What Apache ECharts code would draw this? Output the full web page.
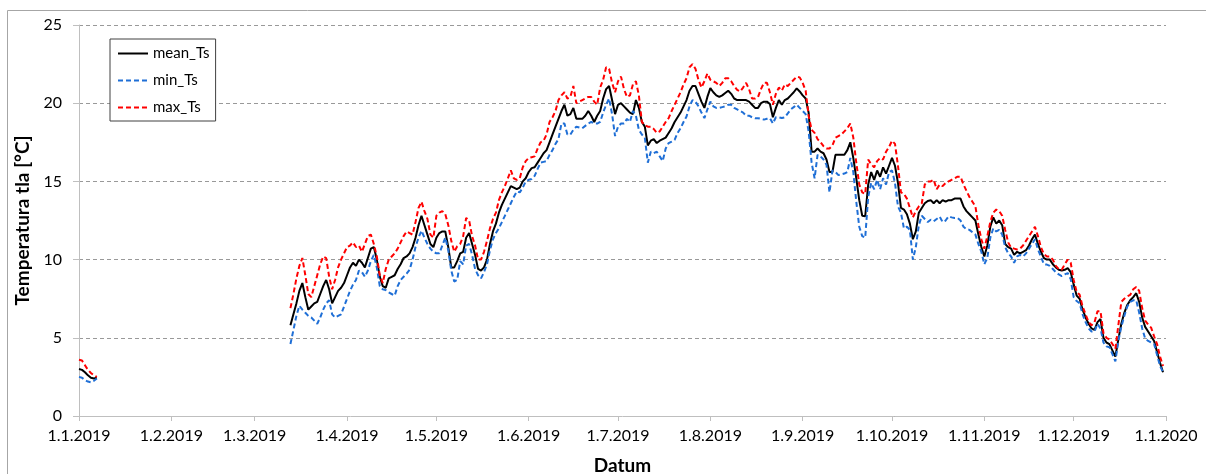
<!DOCTYPE html>
<html>
<head>
<meta charset="utf-8">
<title>Temperatura tla 2019</title>
<script src="https://cdn.jsdelivr.net/npm/echarts@6/dist/echarts.min.js"></script>
<style>
  html, body { margin: 0; padding: 0; background: #fff; }
  #chart { width: 1206px; height: 474px; }
</style>
</head>
<body>
<div id="chart"></div>
<script>
// Daily soil temperature, 2019 (°C)
const seriesNames = ['mean_Ts', 'min_Ts', 'max_Ts'];
const yTicks = [0, 5, 10, 15, 20, 25];

// First week of January (1.1.2019 – 7.1.2019)
const janStart = '2019-01-01';
const janMean = [3.0, 2.95, 2.8, 2.6, 2.45, 2.4, 2.45];
const janMin  = [2.5, 2.45, 2.3, 2.2, 2.15, 2.25, 2.4];
const janMax  = [3.6, 3.55, 3.25, 2.95, 2.75, 2.6, 2.5];

// Continuous record from 13.3.2019 to 31.12.2019
const mainStart = '2019-03-13';
const meanTs = [
  5.8, 6.5, 7.2, 8.0, 8.5, 7.6, 6.8, 7.0, 7.2, 7.3,
  7.8, 8.3, 8.7, 8.1, 7.2, 7.6, 8.0, 8.2, 8.5, 9.0,
  9.5, 9.8, 9.6, 10.0, 9.8, 9.5, 10.1, 10.7, 10.8, 10.0,
  8.9, 8.3, 8.2, 8.8, 8.9, 9.0, 9.4, 9.7, 10.1, 10.2,
  10.4, 10.8, 11.4, 12.2, 12.8, 12.2, 11.6, 11.0, 10.8, 11.4,
  11.7, 11.8, 11.8, 10.8, 9.5, 9.5, 9.9, 10.4, 10.5, 11.4,
  11.7, 11.0, 10.3, 9.4, 9.3, 9.5, 10.0, 11.0, 11.8, 12.3,
  13.0, 13.5, 13.9, 14.3, 14.7, 14.6, 14.5, 14.6, 15.0, 15.2,
  15.6, 15.85, 15.9, 16.2, 16.5, 16.8, 17.0, 17.5, 18.0, 18.5,
  19.0, 19.5, 19.9, 19.2, 19.3, 19.7, 19.0, 19.0, 19.0, 19.2,
  19.5, 19.2, 18.8, 19.2, 19.5, 20.3, 20.9, 21.1, 20.2, 19.3,
  19.9, 20.0, 19.8, 19.6, 19.4, 19.3, 20.2, 19.7, 18.8, 18.5,
  17.3, 17.6, 17.7, 17.45, 17.6, 17.7, 17.8, 18.1, 18.4, 18.8,
  19.1, 19.4, 19.8, 20.2, 20.8, 21.1, 21.1, 20.6, 20.1, 19.7,
  20.4, 20.96, 20.7, 20.5, 20.4, 20.5, 20.65, 20.8, 20.6, 20.3,
  20.2, 20.2, 20.2, 20.2, 20.1, 19.9, 19.7, 19.7, 20.0, 20.1,
  20.1, 19.95, 19.1, 19.7, 20.2, 19.9, 20.2, 20.3, 20.5, 20.7,
  20.95, 20.75, 20.5, 20.3, 19.4, 16.9, 16.9, 17.1, 16.9, 16.8,
  16.4, 15.6, 15.6, 16.7, 16.7, 16.7, 16.7, 17.0, 17.5, 16.5,
  15.2, 13.8, 12.8, 12.77, 14.8, 15.6, 15.1, 15.7, 15.3, 15.9,
  15.5, 16.0, 16.5, 16.0, 14.9, 13.3, 13.2, 12.9, 12.3, 11.3,
  11.8, 13.0, 13.3, 13.6, 13.75, 13.8, 13.6, 13.8, 13.6, 13.8,
  13.7, 13.8, 13.8, 13.9, 13.9, 13.9, 13.4, 13.1, 12.9, 12.7,
  12.5, 11.6, 10.8, 10.2, 10.9, 12.1, 12.7, 12.3, 12.5, 12.2,
  11.0, 10.8, 10.7, 10.3, 10.5, 10.4, 10.5, 10.6, 10.9, 11.3,
  11.6, 11.0, 10.5, 10.1, 10.0, 10.0, 9.7, 9.5, 9.35, 9.3,
  9.35, 9.45, 9.2, 8.4, 7.7, 7.5, 6.8, 6.3, 5.9, 5.6,
  5.5, 6.0, 6.2, 5.0, 4.7, 4.6, 4.2, 3.8, 4.9, 5.9,
  6.6, 7.1, 7.4, 7.6, 7.85, 7.3, 6.3, 5.7, 5.4, 5.1,
  4.8, 4.1, 3.4, 2.8
];
const minTs = [
  4.6, 5.5, 6.4, 7.05, 6.8, 6.6, 6.4, 6.3, 6.1, 5.9,
  6.3, 6.8, 7.2, 7.4, 6.5, 6.3, 6.4, 6.5, 7.0, 7.5,
  8.0, 8.4, 8.7, 9.3, 9.2, 8.9, 9.3, 9.9, 10.3, 9.5,
  8.3, 8.1, 8.05, 7.9, 7.8, 7.7, 8.3, 8.7, 8.9, 9.1,
  9.35, 10.0, 10.8, 11.4, 11.85, 11.4, 11.0, 10.7, 10.5, 10.4,
  10.4, 10.9, 11.4, 10.6, 9.3, 8.6, 8.7, 9.9, 9.7, 10.9,
  11.0, 10.3, 9.4, 9.0, 8.8, 9.2, 9.7, 10.6, 11.3, 11.7,
  12.0, 12.4, 12.8, 13.2, 13.6, 14.0, 14.35, 14.3, 14.6, 15.0,
  15.1, 15.15, 15.35, 15.8, 16.2, 16.25, 16.3, 16.7, 17.0, 17.4,
  17.7, 18.7, 18.7, 18.0, 18.0, 18.3, 18.5, 18.45, 18.4, 18.55,
  18.7, 18.8, 18.7, 18.7, 18.8, 19.4, 19.9, 20.3, 19.3, 17.9,
  18.5, 18.7, 18.7, 19.0, 18.8, 19.5, 19.2, 18.3, 18.0, 17.8,
  16.2, 16.9, 16.8, 16.9, 16.6, 16.3, 17.1, 17.45, 17.55, 17.66,
  18.1, 18.4, 18.8, 19.15, 19.8, 20.2, 20.1, 19.8, 19.4, 19.05,
  19.6, 20.1, 19.8, 19.7, 19.7, 19.75, 19.8, 19.9, 19.9, 19.7,
  19.6, 19.5, 19.4, 19.2, 19.2, 19.1, 19.04, 19.04, 19.0, 18.95,
  19.0, 19.04, 18.7, 19.1, 19.1, 19.05, 19.1, 19.35, 19.6, 19.75,
  19.9, 19.7, 19.5, 19.3, 18.2, 16.2, 15.2, 16.7, 16.6, 16.4,
  16.06, 14.3, 15.7, 15.6, 15.4, 15.45, 15.5, 15.6, 16.5, 15.6,
  13.7, 12.1, 11.5, 11.4, 14.0, 14.9, 14.5, 15.1, 14.5, 15.2,
  14.8, 15.6, 15.7, 14.9, 13.4, 13.0, 12.0, 12.1, 11.9, 10.0,
  10.8, 12.2, 12.8, 12.6, 12.4, 12.55, 12.45, 12.6, 12.75, 12.4,
  12.5, 12.77, 12.7, 12.66, 12.66, 12.5, 12.1, 11.95, 11.9, 11.75,
  11.6, 11.0, 10.5, 9.7, 10.1, 11.4, 12.0, 11.8, 11.9, 11.6,
  10.8, 10.4, 10.2, 9.8, 10.2, 10.3, 10.2, 10.4, 10.7, 11.0,
  11.3, 10.64, 10.2, 9.7, 9.68, 9.6, 9.4, 9.2, 9.05, 8.95,
  9.05, 9.14, 8.75, 7.6, 7.35, 7.2, 6.5, 6.0, 5.6, 5.4,
  5.4, 5.9, 5.6, 4.7, 4.45, 4.4, 3.95, 3.5, 4.8, 5.7,
  6.4, 7.0, 7.3, 7.4, 7.4, 6.6, 5.6, 4.95, 4.8, 4.7,
  4.6, 3.9, 3.2, 2.8
];
const maxTs = [
  6.9, 7.8, 8.8, 9.6, 10.1, 9.0, 7.8, 7.6, 8.3, 9.0,
  9.7, 10.2, 10.1, 8.9, 8.1, 8.7, 9.5, 10.0, 10.4, 10.8,
  10.9, 11.1, 10.8, 10.9, 10.5, 11.0, 11.5, 11.6, 11.0, 10.2,
  9.0, 8.5, 9.4, 10.0, 10.2, 10.4, 10.7, 11.1, 11.5, 11.8,
  11.7, 11.6, 12.4, 13.3, 13.7, 13.1, 12.6, 11.6, 11.4, 12.8,
  13.0, 13.1, 12.9, 12.2, 11.2, 10.5, 10.85, 11.0, 11.5, 12.66,
  12.5, 11.5, 10.9, 10.0, 10.0, 10.5, 11.2, 12.0, 12.6, 13.0,
  13.8, 14.3, 14.7, 15.2, 15.7, 15.2, 15.1, 15.2, 15.9, 16.3,
  16.5, 16.55, 16.6, 17.1, 17.5, 17.6, 18.0, 18.8, 19.1, 19.5,
  20.2, 20.5, 20.7, 20.3, 20.4, 21.1, 20.0, 20.1, 20.2, 20.3,
  20.4, 20.4, 20.1, 19.9, 21.0, 21.5, 22.3, 22.2, 21.3, 20.7,
  21.4, 21.7, 20.9, 20.4, 20.5, 21.2, 21.4, 20.5, 18.8, 18.6,
  18.5, 18.5, 18.35, 18.1, 18.2, 18.5, 18.8, 19.05, 19.5, 19.9,
  20.3, 20.7, 21.2, 21.6, 22.3, 22.5, 22.2, 21.5, 21.0, 21.4,
  21.9, 21.5, 21.4, 21.3, 21.1, 21.3, 21.6, 21.6, 21.4, 21.1,
  20.85, 20.75, 21.0, 21.3, 20.9, 20.3, 20.3, 20.4, 20.9, 21.3,
  21.3, 20.7, 19.9, 20.6, 21.0, 20.8, 21.2, 21.1, 21.3, 21.5,
  21.7, 21.65, 21.3, 20.8, 19.2, 18.3, 18.1, 17.7, 17.5, 17.25,
  17.1, 17.1, 17.3, 17.8, 17.9, 18.0, 18.2, 18.4, 18.7, 17.8,
  16.2, 14.8, 14.3, 14.2, 16.4, 16.1, 15.9, 16.3, 16.5, 16.4,
  16.9, 17.2, 17.6, 17.4, 16.0, 14.3, 14.2, 13.9, 13.3, 12.7,
  13.1, 13.4, 13.6, 14.8, 15.0, 15.0, 15.1, 14.5, 14.8, 14.7,
  14.9, 15.0, 15.1, 15.2, 15.3, 15.3, 14.8, 14.4, 14.0, 13.7,
  13.4, 12.2, 11.3, 10.7, 11.5, 12.4, 13.0, 13.2, 13.1, 12.8,
  11.9, 11.1, 10.75, 10.7, 10.65, 10.7, 10.9, 11.2, 11.5, 11.8,
  12.1, 11.5, 10.8, 10.35, 10.2, 10.2, 10.0, 9.6, 9.4, 9.35,
  9.7, 10.0, 9.8, 8.7, 7.95, 7.75, 7.0, 6.5, 6.0, 5.8,
  6.0, 6.7, 6.7, 5.3, 5.0, 4.9, 4.6, 4.3, 5.8, 7.3,
  7.5, 7.65, 7.75, 8.1, 8.25, 8.0, 6.9, 6.1, 5.85, 5.65,
  5.1, 4.6, 3.8, 3.2
];

// Category axis: one entry per day, 1.1.2019 .. 1.1.2020, formatted d.m.yyyy
const DAY = 86400000;
const axisStart = Date.UTC(2019, 0, 1);
const axisEnd = Date.UTC(2020, 0, 1);
const days = [];
for (let t = axisStart; t <= axisEnd; t += DAY) {
  const d = new Date(t);
  days.push(d.getUTCDate() + '.' + (d.getUTCMonth() + 1) + '.' + d.getUTCFullYear());
}

function dayIndex(iso) {
  const p = iso.split('-').map(Number);
  return Math.round((Date.UTC(p[0], p[1] - 1, p[2]) - axisStart) / DAY);
}

// Place the two measured stretches on the full-year axis, gaps stay empty
function fullYear(janPart, mainPart) {
  const out = new Array(days.length).fill(null);
  const j0 = dayIndex(janStart);
  janPart.forEach((v, i) => { out[j0 + i] = v; });
  const m0 = dayIndex(mainStart);
  mainPart.forEach((v, i) => { out[m0 + i] = v; });
  return out;
}

const isMonthStart = (idx, label) => label.startsWith('1.');
const FONT = 'Lato, "Open Sans", sans-serif';
const DASH = [5, 3];

const chart = echarts.init(document.getElementById('chart'));
chart.setOption({
  animation: false,
  backgroundColor: '#ffffff',
  textStyle: { fontFamily: FONT },
  graphic: [{
    type: 'rect',
    silent: true,
    shape: { x: 7.5, y: 10.5, width: 1220, height: 490 },
    style: { fill: 'none', stroke: '#a6a6a6', lineWidth: 1 }
  }],
  grid: { left: 79, right: 40, top: 25, bottom: 58, outerBoundsMode: 'none', containLabel: false },
  legend: {
    orient: 'vertical',
    left: 110,
    top: 39,
    data: seriesNames,
    itemWidth: 30,
    itemHeight: 14,
    itemGap: 10,
    padding: [6, 6, 5, 7],
    borderColor: '#404040',
    borderWidth: 1,
    backgroundColor: '#ffffff',
    textStyle: { fontFamily: FONT, fontSize: 15, color: '#000', lineHeight: 17 }
  },
  xAxis: {
    type: 'category',
    data: days,
    boundaryGap: false,
    name: 'Datum',
    nameLocation: 'middle',
    nameGap: 40,
    nameTextStyle: { fontFamily: FONT, fontSize: 19, fontWeight: 'bold', color: '#000' },
    axisLine: { lineStyle: { color: '#bfbfbf', width: 1 } },
    axisTick: { show: true, interval: isMonthStart, length: 5, lineStyle: { color: '#bfbfbf' } },
    axisLabel: { interval: isMonthStart, margin: 12, fontSize: 16, color: '#000', fontFamily: FONT },
    splitLine: { show: false }
  },
  yAxis: {
    type: 'value',
    min: yTicks[0],
    max: yTicks[yTicks.length - 1],
    interval: 5,
    name: 'Temperatura tla [°C]',
    nameLocation: 'middle',
    nameGap: 47,
    nameTextStyle: { fontFamily: FONT, fontSize: 19, fontWeight: 'bold', color: '#000' },
    axisLine: { show: true, lineStyle: { color: '#bfbfbf', width: 1 } },
    axisTick: { show: true, length: 6, lineStyle: { color: '#bfbfbf' } },
    axisLabel: { margin: 17, fontSize: 16, color: '#000', fontFamily: FONT },
    splitLine: { show: true, lineStyle: { color: '#999999', type: [4, 3], width: 1 } }
  },
  series: [
    {
      name: seriesNames[0], type: 'line', data: fullYear(janMean, meanTs),
      symbol: 'none', connectNulls: false,
      lineStyle: { color: '#000000', width: 2 }, itemStyle: { color: '#000000', opacity: 0 }
    },
    {
      name: seriesNames[1], type: 'line', data: fullYear(janMin, minTs),
      symbol: 'none', connectNulls: false,
      lineStyle: { color: '#1f6fd6', width: 2, type: DASH }, itemStyle: { color: '#1f6fd6', opacity: 0 }
    },
    {
      name: seriesNames[2], type: 'line', data: fullYear(janMax, maxTs),
      symbol: 'none', connectNulls: false,
      lineStyle: { color: '#ff0000', width: 2, type: DASH }, itemStyle: { color: '#ff0000', opacity: 0 }
    }
  ]
});
</script>
</body>
</html>
